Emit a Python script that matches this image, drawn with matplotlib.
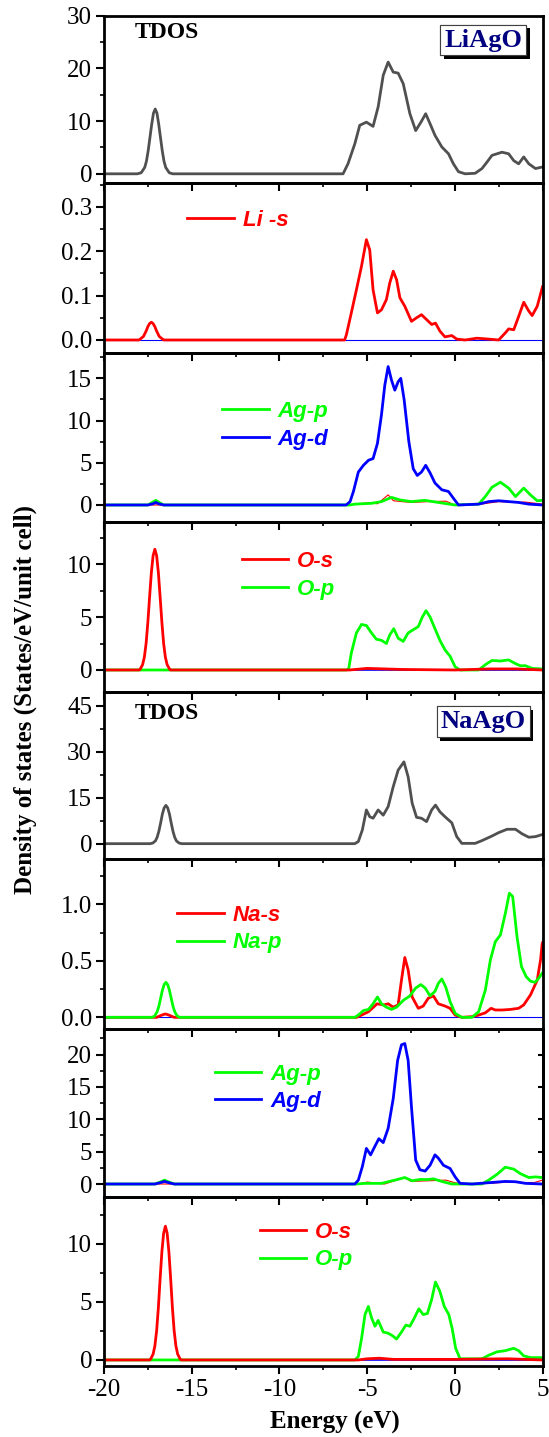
import matplotlib.pyplot as plt
import matplotlib.patheffects as pe
from matplotlib.ticker import MultipleLocator, AutoMinorLocator, FormatStrFormatter

plt.rcParams["font.family"] = ["Liberation Serif", "DejaVu Serif"]
plt.rcParams["axes.unicode_minus"] = False

# ---------------------------------------------------------------------------
# Données (énergie en eV, DOS en états/eV/maille)
# ---------------------------------------------------------------------------

# ---- LiAgO : TDOS
li_tdos_e = [-20, -18.1, -17.88, -17.68, -17.58, -17.48, -17.38, -17.28, -17.18, -17.08, -16.98, -16.88,
             -16.78, -16.68, -16.58, -16.48, -16.28, -16.08,
             -6.37, -6.09, -5.70, -5.42, -5.04, -4.66, -4.37, -4.08, -3.80, -3.51, -3.23, -2.94, -2.56, -2.23,
             -1.93, -1.66, -1.41, -1.13, -0.74, -0.36, -0.08, 0.21, 0.59, 1.16, 1.55, 1.83, 2.12, 2.69, 3.07,
             3.36, 3.64, 3.93, 4.22, 4.60, 5.0]
li_tdos = [0, 0, 0.2, 1.2, 2.4, 4.4, 6.9, 9.4, 11.5, 12.3, 11.5, 9.4,
           6.9, 4.4, 2.4, 1.2, 0.2, 0,
           0, 1.9, 5.7, 9.2, 9.8, 9.0, 12.7, 18.7, 21.2, 19.3, 19.1, 17.1, 11.4, 8.2,
           9.8, 11.4, 9.5, 7.3, 5.1, 3.8, 1.9, 0.4, 0, 0.1, 1.0, 2.2, 3.5, 4.1, 3.8,
           2.5, 1.9, 3.2, 1.9, 1.0, 1.3]

# ---- LiAgO : Li-s
li_s_e = [-20, -18.0, -17.75, -17.6, -17.5, -17.4, -17.3, -17.2, -17.1, -17.0, -16.85, -16.6,
          -6.28, -6.18, -5.90, -5.61, -5.32, -5.04, -4.85, -4.66, -4.41, -4.18, -3.90, -3.71, -3.51, -3.32,
          -3.13, -2.85, -2.47, -2.18, -1.90, -1.61, -1.32, -1.10, -0.85, -0.56, -0.17, 0.11, 0.59, 1.26,
          1.93, 2.50, 2.88, 3.07, 3.36, 3.64, 3.93, 4.22, 4.41, 4.70, 4.98, 5.0]
li_s = [0, 0, 0.008, 0.02, 0.03, 0.037, 0.04, 0.037, 0.03, 0.02, 0.008, 0,
        0, 0.012, 0.061, 0.113, 0.166, 0.226, 0.203, 0.113, 0.061, 0.068, 0.091, 0.128, 0.155, 0.136,
        0.095, 0.076, 0.042, 0.050, 0.057, 0.046, 0.035, 0.038, 0.020, 0.007, 0.010, 0.002, 0, 0.004,
        0.002, 0, 0.016, 0.025, 0.023, 0.053, 0.085, 0.065, 0.055, 0.076, 0.117, 0.12]

# ---- LiAgO : Ag
li_agd_e = [-20, -17.5, -17.2, -17.05, -16.9, -16.6,
            -6.2, -5.97, -5.78, -5.50, -5.21, -4.92, -4.66, -4.41, -4.18, -3.99, -3.80, -3.61, -3.42, -3.23,
            -3.08, -2.89, -2.62, -2.37, -2.14, -1.90, -1.66, -1.41, -1.13, -0.74, -0.36, -0.08, 0.21, 1.36,
            1.93, 2.50, 3.07, 3.64, 4.22, 5.0]
li_agd = [0, 0, 0.15, 0.3, 0.15, 0,
          0, 0.4, 1.6, 3.9, 4.7, 5.3, 5.5, 7.3, 10.7, 14.2, 16.4, 14.8, 13.6, 14.6,
          15.0, 12.5, 7.5, 4.3, 3.5, 3.9, 4.7, 3.8, 2.6, 1.8, 1.6, 0.8, 0, 0.1,
          0.4, 0.5, 0.4, 0.3, 0.1, 0]
li_agp_e = [-20, -17.5, -17.25, -17.05, -16.85, -16.6, -6.0, -5.70, -4.74, -4.18, -3.61, -3.13, -2.47,
            -1.71, -0.94, 0.02, 1.36, 1.74, 2.12, 2.60, 3.07, 3.46, 3.93, 4.31, 4.70, 5.0]
li_agp = [0, 0, 0.3, 0.55, 0.3, 0, 0, 0.1, 0.2, 0.4, 0.9, 0.6, 0.4,
          0.55, 0.3, 0, 0.1, 1.0, 2.1, 2.7, 2.0, 1.0, 2.0, 1.2, 0.5, 0.55]
li_ags_e = [-20, -6.0, -5.0, -4.4, -3.8, -3.5, -2.5, -1.5, -0.5, 0.0, 1.5, 2.5, 3.5, 4.0, 5.0]
li_ags = [0, 0, 0.25, 0.15, 1.2, 0.5, 0.3, 0.4, 0.45, 0, 0.1, 0.4, 0.3, 0.35, 0.1]

# ---- LiAgO : O
li_os_e = [-20, -18.0, -17.95, -17.8, -17.7, -17.6, -17.5, -17.4, -17.3, -17.2, -17.1, -17.0, -16.9,
           -16.8, -16.7, -16.6, -16.5, -16.4, -16.25, -16.2,
           -6.0, -5.0, -3.0, 0.0, 2.0, 3.5, 5.0]
li_os = [0, 0, 0.05, 0.5, 1.2, 2.5, 4.5, 6.9, 9.2, 10.8, 11.4, 10.8, 9.2,
         6.9, 4.5, 2.5, 1.2, 0.5, 0.05, 0,
         0, 0.15, 0.05, 0, 0.1, 0.1, 0]
li_op_e = [-20, -6.2, -6.05, -5.90, -5.61, -5.32, -5.04, -4.75, -4.47, -4.18, -3.90, -3.71, -3.48, -3.23,
           -2.94, -2.66, -2.37, -2.08, -1.85, -1.64, -1.41, -1.13, -0.85, -0.56, -0.27, 0.02, 0.30, 1.36,
           1.74, 2.12, 2.60, 3.07, 3.46, 3.74, 4.03, 4.41, 5.0]
li_op = [0, 0, 0.1, 1.6, 3.5, 4.3, 4.2, 3.5, 2.9, 2.8, 2.5, 3.3, 3.9, 3.0,
         2.7, 3.5, 3.8, 4.1, 5.0, 5.6, 5.0, 3.9, 2.8, 1.9, 1.3, 0.3, 0, 0,
         0.5, 0.9, 0.85, 0.95, 0.6, 0.4, 0.4, 0.15, 0.1]

# ---- NaAgO : TDOS
na_tdos_e = [-20, -17.37, -17.22, -17.07, -16.97, -16.87, -16.77, -16.67, -16.57, -16.47, -16.37, -16.27,
             -16.17, -16.07, -15.97, -15.87, -15.72, -15.57,
             -5.70, -5.50, -5.27, -5.04, -4.85, -4.66, -4.37, -4.08, -3.80, -3.51, -3.23, -2.90, -2.66,
             -2.43, -2.18, -1.90, -1.61, -1.32, -1.10, -0.85, -0.56, -0.17, 0.11, 0.40, 1.16, 1.55, 2.12,
             2.50, 2.98, 3.46, 3.84, 4.22, 4.60, 5.0]
na_tdos = [0, 0, 0.2, 0.9, 2.1, 4.1, 6.8, 9.7, 11.7, 12.5, 11.7, 9.7,
           6.8, 4.1, 2.1, 0.9, 0.2, 0,
           0, 0.7, 4.5, 11.0, 8.8, 8.3, 11.0, 9.3, 12.1, 18.6, 24.0, 26.7, 21.8,
           13.2, 8.6, 8.3, 7.2, 11.0, 12.6, 10.4, 8.8, 6.8, 2.3, 0.1, 0.1, 1.0, 2.5,
           3.6, 4.7, 4.7, 3.2, 2.1, 2.3, 3.0]

# ---- NaAgO : Na
na_s_e = [-20, -17.0, -16.7, -16.5, -16.3, -16.0, -5.6, -5.32, -4.92, -4.43, -4.05, -3.80, -3.51, -3.23,
          -3.04, -2.85, -2.66, -2.43, -2.08, -1.80, -1.51, -1.22, -0.94, -0.56, -0.27, 0.02, 0.40, 0.98,
          1.36, 1.74, 2.07, 2.31, 2.69, 3.17, 3.64, 3.93, 4.32, 4.70, 4.89, 4.98, 5.0]
na_s = [0, 0, 0.02, 0.03, 0.02, 0, 0, 0.02, 0.05, 0.12, 0.11, 0.12, 0.09, 0.11,
        0.33, 0.53, 0.42, 0.18, 0.08, 0.10, 0.17, 0.19, 0.12, 0.10, 0.08, 0.02, 0, 0.006,
        0.02, 0.04, 0.08, 0.065, 0.065, 0.07, 0.08, 0.11, 0.20, 0.33, 0.51, 0.65, 0.66]
na_p_e = [-20, -17.27, -17.12, -16.97, -16.87, -16.77, -16.67, -16.57, -16.47, -16.37, -16.27, -16.17,
          -16.07, -15.97, -15.82, -15.67,
          -5.7, -5.50, -5.21, -4.92, -4.66, -4.41, -4.18, -3.90, -3.61, -3.32, -2.94, -2.56, -2.23, -1.94,
          -1.69, -1.41, -1.13, -0.94, -0.74, -0.52, -0.27, 0.02, 0.40, 0.98, 1.36, 1.74, 2.03, 2.31, 2.60,
          2.88, 3.11, 3.30, 3.55, 3.80, 4.07, 4.32, 4.57, 4.80, 4.98]
na_p = [0, 0, 0.01, 0.05, 0.10, 0.17, 0.24, 0.29, 0.31, 0.29, 0.24, 0.17,
        0.10, 0.05, 0.01, 0,
        0, 0.02, 0.06, 0.07, 0.12, 0.18, 0.12, 0.09, 0.07, 0.09, 0.15, 0.19, 0.26, 0.29,
        0.26, 0.19, 0.23, 0.30, 0.34, 0.27, 0.14, 0.035, 0, 0, 0.05, 0.24, 0.51, 0.67, 0.73,
        0.92, 1.10, 1.07, 0.71, 0.45, 0.36, 0.32, 0.31, 0.35, 0.39]

# ---- NaAgO : Ag
na_agd_e = [-20, -17.1, -16.8, -16.55, -16.3, -16.0, -5.7, -5.50, -5.27, -5.04, -4.80, -4.56, -4.33, -4.08,
            -3.80, -3.51, -3.26, -3.04, -2.85, -2.66, -2.47, -2.23, -1.99, -1.69, -1.41, -1.13, -0.94, -0.65,
            -0.27, 0.02, 0.30, 0.98, 1.93, 2.88, 3.46, 4.03, 5.0]
na_agd = [0, 0, 0.2, 0.4, 0.2, 0, 0, 0.6, 2.7, 5.5, 4.5, 5.8, 7.0, 6.4,
          8.6, 13.2, 19.1, 21.5, 21.7, 19.1, 11.9, 3.7, 2.2, 2.0, 2.9, 4.5, 4.0, 2.9,
          2.4, 1.1, 0.1, 0, 0.2, 0.4, 0.35, 0.1, 0]
na_agp_e = [-20, -17.1, -16.8, -16.55, -16.3, -16.0, -5.6, -5.14, -4.18, -3.42, -2.85, -2.43, -1.99, -1.51,
            -1.22, -0.75, -0.17, 1.55, 1.93, 2.41, 2.88, 3.36, 3.74, 4.22, 4.60, 4.98]
na_agp = [0, 0, 0.3, 0.6, 0.3, 0, 0, 0.1, 0.1, 0.6, 1.0, 0.5, 0.7, 0.7,
          0.8, 0.4, 0, 0, 0.6, 1.5, 2.6, 2.3, 1.6, 1.0, 1.1, 1.0]
na_ags_e = [-20, -5.5, -5.0, -4.0, -2.85, -2.5, -1.5, -0.5, 0.0, 0.5, 2.0, 3.0, 4.5, 5.0]
na_ags = [0, 0, 0.3, 0, 1.0, 0.4, 0.5, 0.6, 0.2, 0, 0.1, 0.3, 0.2, 0.6]

# ---- NaAgO : O
na_os_e = [-20, -17.4, -17.35, -17.2, -17.1, -17.0, -16.9, -16.8, -16.7, -16.6, -16.5, -16.4, -16.3,
           -16.2, -16.1, -16.0, -15.9, -15.8, -15.65, -15.6,
           -5.5, -5.0, -4.3, -3.5, 0.0, 3.0, 4.0, 5.0]
na_os = [0, 0, 0.05, 0.5, 1.2, 2.5, 4.5, 7.0, 9.3, 10.9, 11.5, 10.9, 9.3,
         7.0, 4.5, 2.5, 1.2, 0.5, 0.05, 0,
         0, 0.1, 0.15, 0.05, 0.05, 0.1, 0.05, 0]
na_op_e = [-20, -5.7, -5.50, -5.31, -5.12, -4.93, -4.74, -4.55, -4.37, -4.08, -3.80, -3.57, -3.32, -3.04,
           -2.79, -2.56, -2.31, -2.05, -1.80, -1.56, -1.32, -1.10, -0.85, -0.60, -0.34, -0.15, 0.05, 0.30,
           1.55, 1.93, 2.41, 2.88, 3.36, 3.64, 3.93, 4.32, 5.0]
na_op = [0, 0, 0.3, 1.9, 3.9, 4.6, 3.6, 2.9, 3.4, 2.4, 2.3, 2.1, 1.8, 2.4,
         3.0, 2.9, 3.6, 4.4, 3.9, 4.0, 5.2, 6.7, 5.9, 4.6, 3.9, 2.7, 1.0, 0.1,
         0.1, 0.4, 0.7, 0.8, 1.0, 0.8, 0.35, 0.2, 0.2]

# ---------------------------------------------------------------------------
# Mise en page : 8 panneaux empilés (bords en pixels de l'image de référence)
# ---------------------------------------------------------------------------
W, H = 549, 1437
bords = [15.7, 183.3, 353.3, 521.7, 691.7, 859.3, 1029.3, 1196.7, 1366]
x_gauche, x_droite = 104, 542.5

ylims = [(-1.8, 30), (-0.03, 0.353), (-1.98, 17.97), (-2.05, 14.0),
         (-5.1, 49.6), (-0.106, 1.40), (-1.96, 23.9), (-0.52, 14.04)]
ymajeurs = [10, 0.1, 5, 5, 15, 0.5, 5, 5]

GRIS = "#505050"
ROUGE = "#ff0000"
VERT = "#00ff00"
BLEU = "#0000ff"
LW = 2.0

fig = plt.figure(figsize=(W / 100, H / 100), dpi=100)
axes = []
for i in range(8):
    b = 1 - bords[i + 1] / H
    h = (bords[i + 1] - bords[i]) / H
    ax = fig.add_axes([x_gauche / W, b, (x_droite - x_gauche) / W, h])
    ax.patch.set_visible(False)  # pour que les graduations du panneau du dessus restent visibles
    ax.set_xlim(-20, 5)
    ax.set_ylim(*ylims[i])
    ax.yaxis.set_major_locator(MultipleLocator(ymajeurs[i]))
    ax.yaxis.set_minor_locator(AutoMinorLocator(2))
    ax.xaxis.set_major_locator(MultipleLocator(5))
    ax.xaxis.set_minor_locator(MultipleLocator(2.5))
    for s in ax.spines.values():
        s.set_linewidth(2)
    ax.tick_params(axis="y", which="major", direction="out", length=5.5, width=1.5,
                   labelsize=18, pad=3)
    ax.tick_params(axis="y", which="minor", direction="out", length=3, width=1.2)
    ax.tick_params(axis="x", which="major", direction="out", length=5.5, width=1.5,
                   labelbottom=(i == 7), labelsize=18)
    ax.tick_params(axis="x", which="minor", direction="out", length=3, width=1.2)
    axes.append(ax)

for i in (1, 5):
    axes[i].yaxis.set_major_formatter(FormatStrFormatter("%.1f"))

# petites graduations internes sur le bord droit du panneau 7 (comme l'original)
sec = axes[6].secondary_yaxis("right")
sec.yaxis.set_major_locator(MultipleLocator(5))
sec.tick_params(axis="y", which="major", direction="in", length=3.5, width=1.5,
                labelright=False)
sec.tick_params(axis="y", which="minor", length=0)
sec.spines["right"].set_linewidth(2)

# ---------------------------------------------------------------------------
# Courbes
# ---------------------------------------------------------------------------
prop_leg = dict(family=["Liberation Sans", "DejaVu Sans"], weight="bold",
                style="italic", size=16)


def legende(ax, handles, x, y):
    ax.legend(handles=handles, loc="center left", bbox_to_anchor=(x, y),
              frameon=False, handlelength=2.1, handletextpad=0.4,
              labelspacing=0.3, borderpad=0, borderaxespad=0,
              prop=prop_leg, labelcolor="linecolor")


# 1 : TDOS LiAgO
ax = axes[0]
ax.plot(li_tdos_e, li_tdos, color=GRIS, lw=LW)

# 2 : Li-s
ax = axes[1]
ax.axhline(0, color=BLEU, lw=0.8)
l1, = ax.plot(li_s_e, li_s, color=ROUGE, lw=LW, label="Li -s")
legende(ax, [l1], 0.19, 0.78)

# 3 : Ag LiAgO
ax = axes[2]
ax.plot(li_ags_e, li_ags, color=ROUGE, lw=0.8)
lp, = ax.plot(li_agp_e, li_agp, color=VERT, lw=LW, label="Ag-p")
ld, = ax.plot(li_agd_e, li_agd, color=BLEU, lw=LW, label="Ag-d")
legende(ax, [lp, ld], 0.27, 0.573)

# 4 : O LiAgO
ax = axes[3]
ax.axhline(0, color=BLEU, lw=1.2)
lp, = ax.plot(li_op_e, li_op, color=VERT, lw=LW, label="O-p")
ls, = ax.plot(li_os_e, li_os, color=ROUGE, lw=LW, label="O-s")
legende(ax, [ls, lp], 0.314, 0.685)

# 5 : TDOS NaAgO
ax = axes[4]
ax.plot(na_tdos_e, na_tdos, color=GRIS, lw=LW)

# 6 : Na
ax = axes[5]
ax.axhline(0, color=BLEU, lw=0.8)
ls, = ax.plot(na_s_e, na_s, color=ROUGE, lw=LW, label="Na-s")
lp, = ax.plot(na_p_e, na_p, color=VERT, lw=LW, label="Na-p")
legende(ax, [ls, lp], 0.167, 0.59)

# 7 : Ag NaAgO
ax = axes[6]
ax.plot(na_ags_e, na_ags, color=ROUGE, lw=0.8)
lp, = ax.plot(na_agp_e, na_agp, color=VERT, lw=LW, label="Ag-p")
ld, = ax.plot(na_agd_e, na_agd, color=BLEU, lw=LW, label="Ag-d")
legende(ax, [lp, ld], 0.252, 0.65)

# 8 : O NaAgO
ax = axes[7]
ax.axhline(0, color=BLEU, lw=1.2)
lp, = ax.plot(na_op_e, na_op, color=VERT, lw=LW, label="O-p")
ls, = ax.plot(na_os_e, na_os, color=ROUGE, lw=LW, label="O-s")
legende(ax, [ls, lp], 0.355, 0.708)

# ---------------------------------------------------------------------------
# Annotations
# ---------------------------------------------------------------------------
for ax, ytd, nom, ycomp in [(axes[0], 0.897, "LiAgO", 0.855),
                            (axes[4], 0.867, "NaAgO", 0.82)]:
    ax.text(0.07, ytd, "TDOS", transform=ax.transAxes, fontsize=17,
            fontweight="bold", va="center", ha="left")
    t = ax.text(0.865, ycomp, nom, transform=ax.transAxes, fontsize=19,
                fontweight="bold", color="#000080", va="center", ha="center",
                bbox=dict(boxstyle="square,pad=0.15", facecolor="white",
                          edgecolor="#404040", linewidth=0.8))
    t.get_bbox_patch().set_path_effects(
        [pe.withSimplePatchShadow(offset=(2.5, -2.5), shadow_rgbFace="black", alpha=1.0),
         pe.Normal()])

fig.text(335 / W, 1 - 1422 / H, "Energy (eV)", fontsize=18, fontweight="bold",
         ha="center", va="center")
fig.text(25 / W, 1 - 700 / H, "Density of states (States/eV/unit cell)",
         fontsize=18, fontweight="bold", rotation=90, ha="center", va="center")

fig.savefig("out.png", dpi=100, facecolor="white")
